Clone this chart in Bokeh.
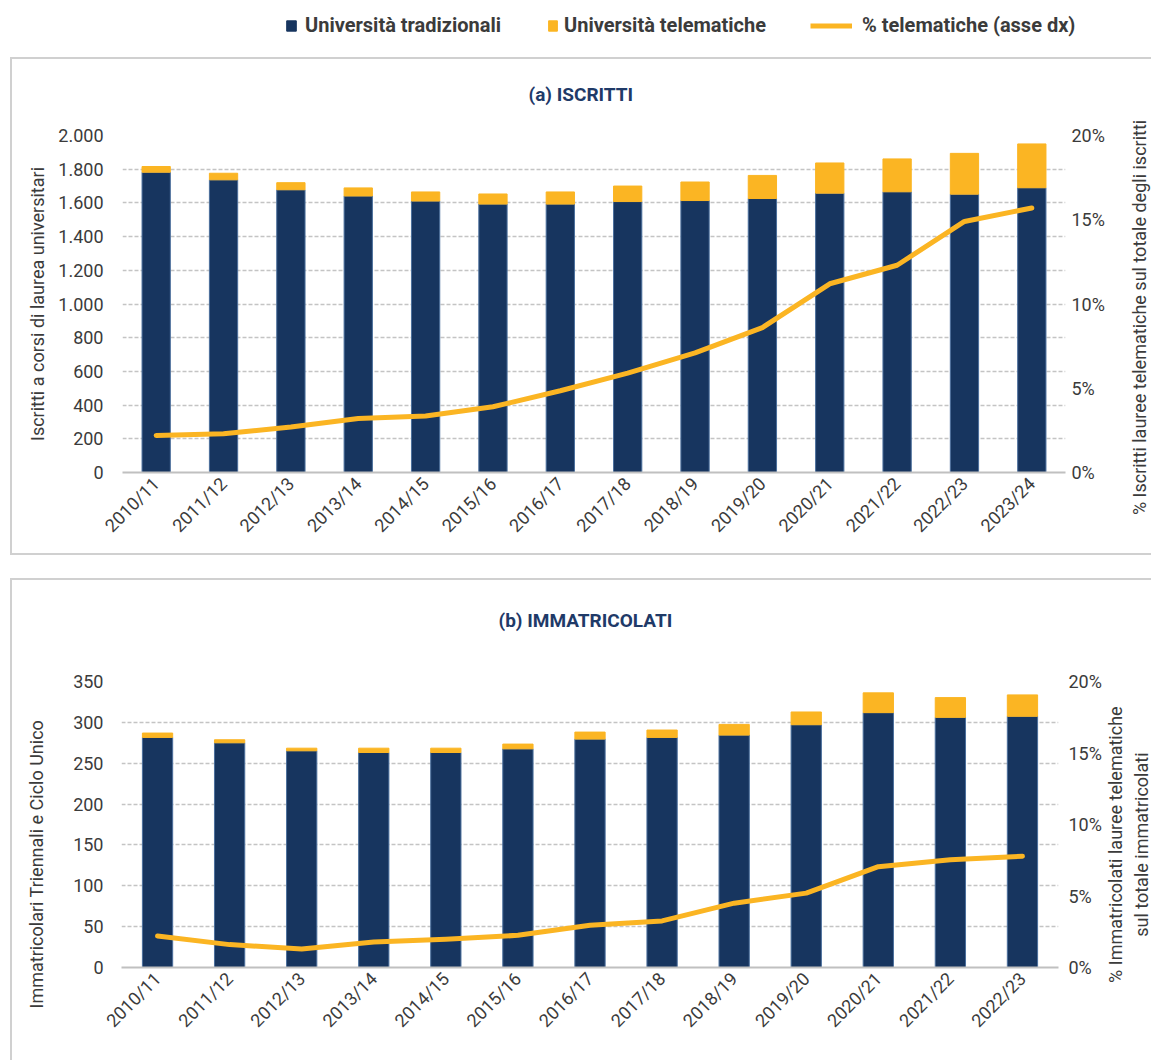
import math
from bokeh.plotting import figure
from bokeh.models import (Range1d, LinearAxis, FixedTicker, Legend, LegendItem,
                          Title, FactorRange, ColumnDataSource)
from bokeh.core.properties import value
from bokeh.layouts import column, row
from bokeh.embed import file_html
from bokeh.resources import INLINE

# ---------------- DATA ----------------
years_a = ["2010/11", "2011/12", "2012/13", "2013/14", "2014/15", "2015/16", "2016/17",
           "2017/18", "2018/19", "2019/20", "2020/21", "2021/22", "2022/23", "2023/24"]
trad_a = [1782, 1737, 1678, 1641, 1611, 1593, 1593, 1608, 1614, 1626, 1658, 1666, 1652, 1690]
tele_a = [34, 39, 42, 48, 54, 60, 72, 92, 110, 137, 179, 195, 242, 260]
pct_a = [2.2, 2.3, 2.7, 3.2, 3.35, 3.9, 4.85, 5.9, 7.1, 8.6, 11.2, 12.3, 14.9, 15.7]

years_b = ["2010/11", "2011/12", "2012/13", "2013/14", "2014/15", "2015/16", "2016/17",
           "2017/18", "2018/19", "2019/20", "2020/21", "2021/22", "2022/23"]
trad_b = [281.6, 275.0, 265.2, 263.1, 263.1, 267.6, 279.5, 281.6, 284.4, 297.1, 311.9, 306.1, 307.4]
tele_b = [5.3, 3.7, 3.2, 5.3, 5.3, 5.8, 8.6, 9.0, 13.1, 15.6, 24.2, 24.2, 26.2]
pct_b = [2.2, 1.6, 1.3, 1.78, 1.97, 2.25, 2.95, 3.26, 4.5, 5.2, 7.05, 7.54, 7.78]

ticks_a = [0, 200, 400, 600, 800, 1000, 1200, 1400, 1600, 1800, 2000]
ticklabels_a = ["0", "200", "400", "600", "800", "1.000", "1.200", "1.400", "1.600", "1.800", "2.000"]
ticks_b = [0, 50, 100, 150, 200, 250, 300, 350]
ticklabels_b = ["0", "50", "100", "150", "200", "250", "300", "350"]
pct_ticks = [0, 5, 10, 15, 20]
pct_ticklabels = ["0%", "5%", "10%", "15%", "20%"]

legend_labels = ["Università tradizionali", "Università telematiche", "% telematiche (asse dx)"]

# ---------------- STYLE ----------------
NAVY = "#17355f"
NAVY_EDGE = "#4b6f9c"
YELLOW = "#fbb523"
TEXT = "#3b3b3b"
TITLE_C = "#1f3a68"
GRID = "#c4c4c4"
FONT = "Roboto"
FS = "18px"
BORDER = "2px solid #d0d0d0"


def style_axis(ax, standoff):
    ax.axis_line_color = None
    ax.major_tick_line_color = None
    ax.minor_tick_line_color = None
    ax.major_tick_out = 0
    ax.major_tick_in = 0
    ax.minor_tick_out = 0
    ax.minor_tick_in = 0
    ax.major_label_standoff = standoff
    ax.major_label_text_font = FONT
    ax.major_label_text_font_size = FS
    ax.major_label_text_color = TEXT
    ax.axis_label_text_font = FONT
    ax.axis_label_text_font_size = FS
    ax.axis_label_text_font_style = "normal"
    ax.axis_label_text_color = TEXT


def panel(cats, trad, tele, pct, ymax, ticks, ticklabels, title, left_label,
          width, height, mb_left, mb_right, mb_top, mb_bottom, spacer, title_standoff,
          ly_standoff, ly_label_standoff, ry_standoff, title_offset, borders):
    src = ColumnDataSource(dict(x=cats, trad=trad, tele=tele,
                                total=[a + b for a, b in zip(trad, tele)], pct=pct))
    p = figure(x_range=FactorRange(factors=cats, range_padding=0), y_range=Range1d(0, ymax),
               width=width, height=height, output_backend="svg", toolbar_location=None,
               min_border_left=mb_left, min_border_right=mb_right,
               min_border_top=mb_top, min_border_bottom=mb_bottom)
    p.frame_align = False
    p.extra_y_ranges = {"pct": Range1d(0, 20)}
    p.outline_line_color = None
    p.background_fill_color = "white"
    p.border_fill_color = "white"

    p.vbar(x="x", bottom=0, top="trad", width=0.42, source=src,
           fill_color=NAVY, line_color=NAVY_EDGE, line_width=1)
    p.vbar(x="x", bottom="trad", top="total", width=0.42, source=src,
           fill_color=YELLOW, line_color=YELLOW, line_width=1)
    p.line(x="x", y="pct", source=src, y_range_name="pct", line_color=YELLOW,
           line_width=5, line_cap="round", line_join="round")

    p.xgrid.grid_line_color = None
    p.ygrid.ticker = FixedTicker(ticks=ticks)
    p.ygrid.grid_line_color = GRID
    p.ygrid.grid_line_dash = "4 2"
    p.ygrid.grid_line_width = 1.3

    ya = p.yaxis[0]
    ya.ticker = FixedTicker(ticks=ticks)
    ya.major_label_overrides = {t: l for t, l in zip(ticks, ticklabels)}
    style_axis(ya, ly_standoff)
    if left_label:
        ya.axis_label = left_label
        ya.axis_label_standoff = ly_label_standoff

    ra = LinearAxis(y_range_name="pct", ticker=FixedTicker(ticks=pct_ticks))
    ra.major_label_overrides = {t: l for t, l in zip(pct_ticks, pct_ticklabels)}
    style_axis(ra, ry_standoff)
    p.add_layout(ra, "right")

    xa = p.xaxis[0]
    style_axis(xa, 8)
    xa.axis_line_color = "#c0c0c0"
    xa.axis_line_width = 2
    xa.major_label_orientation = math.pi / 4

    # blank spacer between the frame and the panel title
    sp = Title(text="\u00a0", text_font_size="1px", standoff=spacer, text_color="white")
    p.add_layout(sp, "above")
    t = Title(text=title, align="left", text_font=FONT, text_font_size="19px",
              text_font_style="bold", text_color=TITLE_C, standoff=title_standoff,
              offset=title_offset)
    p.add_layout(t, "above")

    p.styles = {"border-" + b: BORDER for b in borders}
    return p


def strip(text, width, height, fx, fy, borders):
    """Narrow strip beside a panel holding a vertical axis title (reads bottom-to-top)."""
    s = figure(width=width, height=height, output_backend="svg", toolbar_location=None,
               x_range=Range1d(0, 1), y_range=Range1d(0, 1), x_axis_type=None,
               y_axis_type=None, min_border_left=0, min_border_right=0,
               min_border_top=0, min_border_bottom=0)
    s.frame_align = False
    s.grid.visible = False
    s.outline_line_color = None
    s.text(x=[fx], y=[fy], text=[text], angle=math.pi / 2, text_align="center",
           text_baseline="middle", text_font=value(FONT), text_font_size=FS,
           text_color=TEXT, text_line_height=1.2)
    s.styles = {"border-" + b: BORDER for b in borders}
    return s


# panel (a): main chart from page x 10 to 1115, title strip 1115..1151
pa = panel(years_a, trad_a, tele_a, pct_a, 2000, ticks_a, ticklabels_a, "(a) ISCRITTI",
           "Iscritti a corsi di laurea universitari",
           1105, 498, 110, 52, 76, 85, 21, 12, 19, 7, 6, 406, ["top", "left", "bottom"])
sa = strip("% Iscritti lauree telematiche sul totale degli iscritti", 36, 498, 0.68, 0.482,
           ["top", "bottom"])
row_a = row(pa, sa)
row_a.margin = (0, 0, 0, 10)

# panel (b): left title strip 10..50, main chart 50..1104, right title strip 1104..1151
lb = strip("Immatricolari Triennali e Ciclo Unico", 40, 482, 0.605, 0.4115, ["top", "left"])
pb = panel(years_b, trad_b, tele_b, pct_b, 350, ticks_b, ticklabels_b, "(b) IMMATRICOLATI",
           None, 1054, 482, 71, 46, 101, 95, 21, 51, 18, 0, 10, 377, ["top"])
sb = strip("% Immatricolati lauree telematiche\nsul totale immatricolati", 47, 482,
           0.51, 0.452, ["top"])
row_b = row(lb, pb, sb)
row_b.margin = (23, 0, 0, 10)

# ---------------- LEGEND ----------------
lg = figure(width=1151, height=57, output_backend="svg", toolbar_location=None,
            x_range=Range1d(0, 1), y_range=Range1d(0, 1), x_axis_type=None, y_axis_type=None,
            min_border_left=0, min_border_right=0, min_border_top=0, min_border_bottom=0)
lg.frame_align = False
lg.grid.visible = False
lg.outline_line_color = None
# off-screen dummy glyphs, only used as legend swatches
r1 = lg.vbar(x=[-5], top=[-5], width=0.5, fill_color=NAVY, line_color=NAVY)
r2 = lg.vbar(x=[-5], top=[-5], width=0.5, fill_color=YELLOW, line_color=YELLOW)
r3 = lg.line(x=[-5, -4], y=[-5, -5], line_color=YELLOW, line_width=5)

specs = [(r1, legend_labels[0], 285, 12, 8), (r2, legend_labels[1], 547, 11, 6),
         (r3, legend_labels[2], 810, 42, 10)]
for r, lab, x, gw, so in specs:
    L = Legend(items=[LegendItem(label=lab, renderers=[r])], location=(x, 20),
               orientation="horizontal", glyph_width=gw, glyph_height=13, label_height=13,
               label_standoff=so, padding=0, margin=0, border_line_color=None,
               background_fill_alpha=0, label_text_font=FONT, label_text_font_size="20px",
               label_text_font_style="bold", label_text_color=TEXT)
    lg.add_layout(L, "center")

layout = column(lg, row_a, row_b)
open("out.html", "w").write(file_html(layout, INLINE))
